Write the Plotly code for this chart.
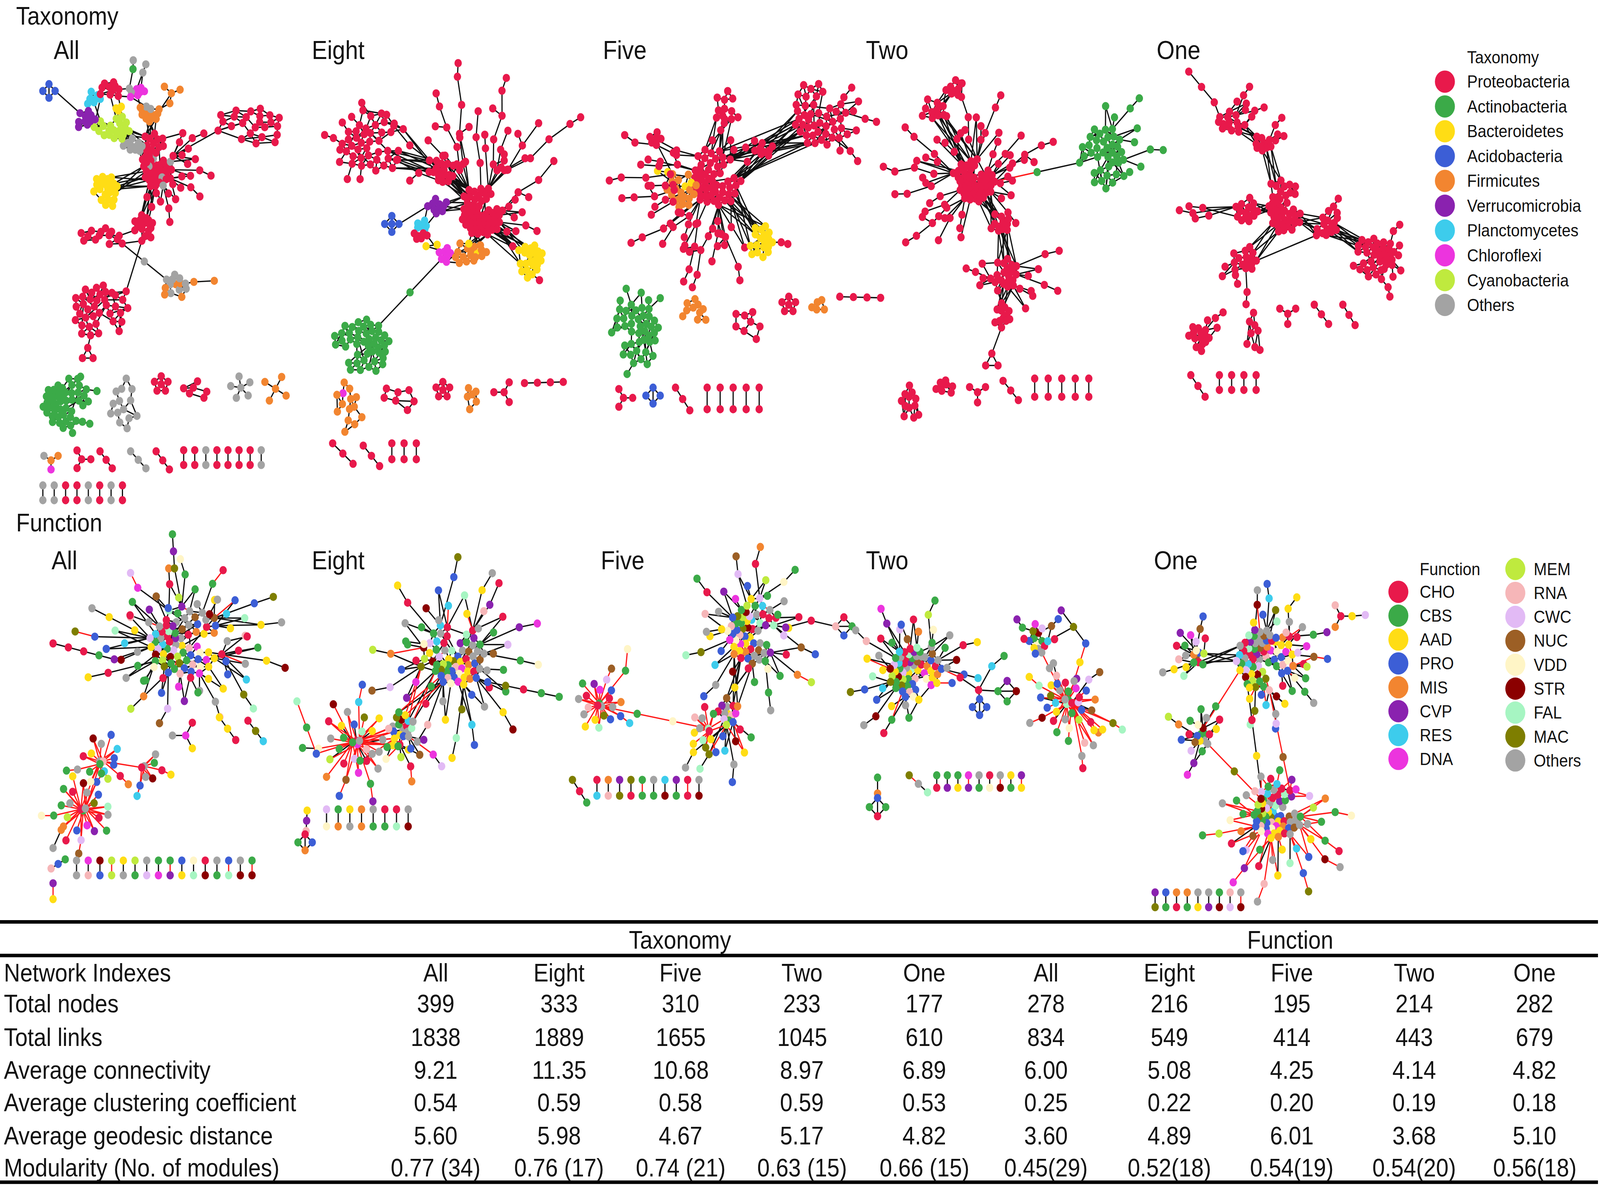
import numpy as np
import plotly.graph_objects as go

# ------------------------------------------------------------------ data
PANELS = ["All", "Eight", "Five", "Two", "One"]
TAX_CATS = ["Proteobacteria", "Actinobacteria", "Bacteroidetes", "Acidobacteria", "Firmicutes",
            "Verrucomicrobia", "Planctomycetes", "Chloroflexi", "Cyanobacteria", "Others"]
TAX_KEYS = ["P", "A", "B", "D", "F", "V", "L", "C", "Y", "O"]
TAX_COLORS = ["#E8194B", "#3BAA48", "#FFDD15", "#3C5ED6", "#F28530",
              "#8A22AF", "#3DCCEC", "#EC34DE", "#BFEA3E", "#A3A3A3"]
FUNC_CATS = ["CHO", "CBS", "AAD", "PRO", "MIS", "CVP", "RES", "DNA",
             "MEM", "RNA", "CWC", "NUC", "VDD", "STR", "FAL", "MAC", "Others"]
FUNC_COLORS = ["#E8194B", "#3BAA48", "#FFDD15", "#3C5ED6", "#F28530", "#8A22AF", "#3DCCEC", "#EC34DE",
               "#BFEA3E", "#F6B6B8", "#E2BAF5", "#9C5F25", "#FFF5C6", "#8B0000", "#A6F5C2", "#7E7E00", "#A3A3A3"]

ROW_LABELS = ["Total nodes", "Total links", "Average connectivity",
              "Average clustering coefficient", "Average geodesic distance",
              "Modularity (No. of modules)"]
TAX_NODES = [399, 333, 310, 233, 177]
FUNC_NODES = [278, 216, 195, 214, 282]
TAX_LINKS = [1838, 1889, 1655, 1045, 610]
FUNC_LINKS = [834, 549, 414, 443, 679]
TAX_AVGK = [9.21, 11.35, 10.68, 8.97, 6.89]
FUNC_AVGK = [6.00, 5.08, 4.25, 4.14, 4.82]
TAX_CC = [0.54, 0.59, 0.58, 0.59, 0.53]
FUNC_CC = [0.25, 0.22, 0.20, 0.19, 0.18]
TAX_GD = [5.60, 5.98, 4.67, 5.17, 4.82]
FUNC_GD = [3.60, 4.89, 6.01, 3.68, 5.10]
TAX_MOD = [0.77, 0.76, 0.74, 0.63, 0.66]
TAX_NMOD = [34, 17, 21, 15, 15]
FUNC_MOD = [0.45, 0.52, 0.54, 0.54, 0.56]
FUNC_NMOD = [29, 18, 19, 20, 18]

# ------------------------------------------------------------------ page frame
W, H = 4562, 3038
SC = W / 1568.0          # px per layout unit
HU = H / SC
FONT = "Arial, Liberation Sans, sans-serif"
NODE_PX = 21
EDGE_PX = 3.4

COLOR = {k: c for k, c in zip(TAX_KEYS, TAX_COLORS)}
COLOR.update({k: c for k, c in zip(FUNC_CATS, FUNC_COLORS)})
FMIX = ["CBS", "CHO", "Others", "PRO", "AAD", "CVP", "MIS", "CBS", "RES", "Others", "DNA", "MEM",
        "CHO", "PRO", "RNA", "CWC", "CBS", "AAD", "MAC", "Others", "NUC", "VDD", "STR", "FAL",
        "CHO", "PRO", "CBS", "Others", "AAD"]

# ------------------------------------------------------------------ layout helpers
NX, NY, NC = [], [], []
EK, ER = [], []
ESET = set()
SEED = [0]


def q(i, s=0):
    return ((i + 1) * 0.6180339887498949 + s * 0.7548776662466927) % 1.0


def nseed():
    SEED[0] += 1
    return SEED[0]


def add_nodes(xs, ys, cols):
    st = len(NX)
    NX.extend(float(v) for v in xs)
    NY.extend(float(v) for v in ys)
    NC.extend(cols)
    return list(range(st, st + len(cols)))


def edge(a, b, ecol="k"):
    if a == b:
        return
    key = (min(a, b), max(a, b))
    if key in ESET:
        return
    ESET.add(key)
    if isinstance(ecol, float):
        red = q(a * 3 + b * 7, 5) < ecol
    else:
        red = ecol == "r"
    (ER if red else EK).append(key)


def cols_of(spec, n, s=0):
    if spec == "mix":
        return [FMIX[(i * 5 + s * 3) % len(FMIX)] for i in range(n)]
    if isinstance(spec, str):
        return [spec] * n
    out = []
    tup = False
    for item in spec:
        if isinstance(item, tuple):
            out += [item[0]] * item[1]
            tup = True
        else:
            out.append(item)
    while len(out) < n:
        out.append(out[len(out) % max(1, len(spec))] if not tup else out[0])
    out = out[:n]
    if tup:
        order = sorted(range(n), key=lambda i: q(i, s + 11))
        out = [out[o] for o in order]
    return out


def blob(cx, cy, n, rx, ry, spec, k=3, chords=0.5, ecol="k"):
    s = nseed()
    i = np.arange(n)
    jit = np.array([q(t, s) for t in range(n)])
    r = np.sqrt((i + 0.5) / n) * (0.8 + 0.35 * jit)
    th = i * 2.399963 + s * 1.3 + 0.6 * np.array([q(t, s + 7) for t in range(n)])
    xs = cx + rx * r * np.cos(th)
    ys = cy + ry * r * np.sin(th)
    ids = add_nodes(xs, ys, cols_of(spec, n, s))
    if n > 1:
        px = (xs - cx) / max(rx, 1e-6)
        py = (ys - cy) / max(ry, 1e-6)
        D = np.hypot(px[:, None] - px[None, :], py[:, None] - py[None, :])
        for a in range(n):
            for b in np.argsort(D[a])[1:k + 1]:
                edge(ids[a], ids[int(b)], ecol)
        for t in range(int(chords * n)):
            a = t % n
            b = int(q(t, s + 3) * n)
            if a != b and D[a, b] < 0.9:
                edge(ids[a], ids[b], ecol)
    return ids


def spokes(core, cx, cy, n, r1, r2, spec, a0=0, a1=360, chain=0.3, ecol="k", ex=1.0, ey=1.0,
           multi=0.3, seg=None, side=0.35):
    s = nseed()
    cxs = np.array([NX[c] for c in core])
    cys = np.array([NY[c] for c in core])
    cols = cols_of(spec, 8 * n + 8, s)
    ci = [0]

    def col():
        ci[0] += 1
        return cols[(ci[0] - 1) % len(cols)]

    ids = []
    for j in range(n):
        a = np.radians(a0 + (a1 - a0) * (j + 0.3 + 0.4 * q(j, s + 1)) / n)
        rr = r1 + (r2 - r1) * q(j, s + 2)
        x = cx + rr * np.cos(a) * ex
        y = cy + rr * np.sin(a) * ey
        nid = add_nodes([x], [y], [col()])[0]
        ids.append(nid)
        order = np.argsort(np.hypot(cxs - x, cys - y))
        c0 = core[int(order[0])]
        L = np.hypot(x - NX[c0], y - NY[c0])
        if seg and L > 1.5 * seg:
            m = int(L // seg)
            dx, dy = (x - NX[c0]) / L, (y - NY[c0]) / L
            prev = c0
            for t in range(1, m + 1):
                f = t / (m + 1.0)
                off = (q(j * 5 + t, s + 8) - 0.5) * 8
                mx = NX[c0] + (x - NX[c0]) * f - dy * off
                my = NY[c0] + (y - NY[c0]) * f + dx * off
                mid = add_nodes([mx], [my], [col()])[0]
                ids.append(mid)
                edge(prev, mid, ecol)
                prev = mid
                if q(j * 3 + t, s + 9) < side:
                    sg = 1 if q(j + t, s + 10) < 0.5 else -1
                    lx = mx + 10 * (dx * 0.5 - dy * sg)
                    ly = my + 10 * (dy * 0.5 + dx * sg)
                    lf = add_nodes([lx], [ly], [col()])[0]
                    ids.append(lf)
                    edge(mid, lf, ecol)
            edge(prev, nid, ecol)
        else:
            edge(nid, c0, ecol)
            if q(j, s + 4) < multi and len(core) > 1:
                edge(nid, core[int(order[1])], ecol)
        if q(j, s + 5) < chain:
            step = 0.3 * (r2 - r1) + 6
            if seg:
                step = min(step, 12)
            b = a + 0.5 * (q(j, s + 6) - 0.5)
            nid2 = add_nodes([x + step * np.cos(b) * ex], [y + step * np.sin(b) * ey], [col()])[0]
            ids.append(nid2)
            edge(nid, nid2, ecol)
    return ids


def ring(cx, cy, n, r, spec, center=False, ecol="k", a0=-90, diag=True):
    s = nseed()
    cols = cols_of(spec, n + 1, s)
    th = np.radians(a0 + 360.0 * np.arange(n) / n)
    ids = add_nodes(cx + r * np.cos(th), cy + r * np.sin(th), cols[:n])
    for t in range(n):
        edge(ids[t], ids[(t + 1) % n], ecol)
    if diag and n >= 4:
        edge(ids[0], ids[n // 2], ecol)
    if center:
        c = add_nodes([cx], [cy], [cols[n]])[0]
        for t in ids:
            edge(c, t, ecol)
        ids = ids + [c]
    return ids


def star(cx, cy, n, r, spec, a0=-90, ecol="k"):
    s = nseed()
    cols = cols_of(spec, n + 1, s)
    c = add_nodes([cx], [cy], [cols[0]])[0]
    th = np.radians(a0 + 360.0 * np.arange(n) / n)
    ids = add_nodes(cx + r * np.cos(th), cy + r * np.sin(th), cols[1:n + 1])
    for t in ids:
        edge(c, t, ecol)
    return [c] + ids


def line(x0, y0, x1, y1, n, spec, ecol="k"):
    s = nseed()
    t = np.linspace(0, 1, n)
    ids = add_nodes(x0 + (x1 - x0) * t, y0 + (y1 - y0) * t, cols_of(spec, n, s))
    for j, (a, b) in enumerate(zip(ids[:-1], ids[1:])):
        edge(a, b, ecol[j % len(ecol)] if isinstance(ecol, list) else ecol)
    return ids


def pairs(x0, x1, y0, y1, tops, bots, ecols=None):
    m = len(tops)
    for j in range(m):
        x = x0 + (x1 - x0) * j / (m - 1) if m > 1 else x0
        e = ecols[j] if ecols else "k"
        line(x, y0, x, y1, 2, [tops[j], bots[j]], e)


def near(ids, x, y):
    d = [(NX[i] - x) ** 2 + (NY[i] - y) ** 2 for i in ids]
    return ids[int(np.argmin(d))]


def connect(A, B, cnt=1, ecol="k"):
    ax = np.array([NX[a] for a in A]); ay = np.array([NY[a] for a in A])
    bx = np.array([NX[b] for b in B]); by = np.array([NY[b] for b in B])
    D = np.hypot(ax[:, None] - bx[None, :], ay[:, None] - by[None, :])
    oa = np.argsort(D.min(1))[:cnt]
    ob = np.argsort(D.min(0))[:cnt]
    for t in range(len(oa)):
        edge(A[int(oa[t])], B[int(ob[t % len(ob)])], ecol)
        if cnt > 2:
            edge(A[int(oa[t])], B[int(ob[(t + 1) % len(ob)])], ecol)


def link(a, b, nmid=0, spec="O", ecol="k"):
    if nmid == 0:
        edge(a, b, ecol if not isinstance(ecol, list) else ecol[0])
        return []
    s = nseed()
    t = np.arange(1, nmid + 1) / (nmid + 1.0)
    ids = add_nodes(NX[a] + (NX[b] - NX[a]) * t, NY[a] + (NY[b] - NY[a]) * t, cols_of(spec, nmid, s))
    ch = [a] + ids + [b]
    for j, (u, v) in enumerate(zip(ch[:-1], ch[1:])):
        edge(u, v, ecol[j % len(ecol)] if isinstance(ecol, list) else ecol)
    return ids


def bridge(A, B, nmid=0, spec="O", ecol="k"):
    ax = np.array([NX[a] for a in A]); ay = np.array([NY[a] for a in A])
    bx = np.array([NX[b] for b in B]); by = np.array([NY[b] for b in B])
    D = np.hypot(ax[:, None] - bx[None, :], ay[:, None] - by[None, :])
    i, j = np.unravel_index(np.argmin(D), D.shape)
    return link(A[int(i)], B[int(j)], nmid, spec, ecol)


# ================================================================== TAXONOMY: All
core = blob(153, 143, 45, 17, 25, [("P", 40), ("O", 5)], chords=0.9)
spokes(core, 153, 143, 20, 24, 44, "P", -50, 110, chain=0.3)
orng = blob(147, 100, 14, 11, 8, [("F", 12), ("O", 2)], chords=0.8)
ost = star(168, 82, 3, 9, "F", a0=-140)
gry = blob(132, 128, 10, 10, 7, "O")
lime = blob(112, 113, 20, 18, 12, "Y", chords=0.8)
yb = blob(116, 95, 3, 5, 3, "B")
mag = blob(134, 80, 8, 9, 6, [("C", 6), ("O", 2)])
spokes(mag, 134, 80, 2, 14, 20, ["A", "O", "O", "O"], -110, -60, chain=0.9)
cyan = blob(92, 86, 7, 8, 7, "L")
purp = blob(84, 105, 10, 12, 8, "V")
blue = ring(48, 80, 4, 6, "D")
rtop = blob(107, 78, 10, 14, 7, "P")
yel = blob(104, 167, 22, 13, 15, "B", chords=0.9)
rbr = blob(246, 110, 24, 36, 18, "P", chords=0.3)
rdn = blob(141, 200, 15, 12, 12, "P")
rlf = blob(101, 208, 14, 24, 9, "P", k=2, chords=0.3)
gor = blob(172, 252, 14, 14, 12, [("O", 9), ("F", 5)])
och = line(190, 248, 210, 247, 2, "F")
rbig = blob(97, 272, 38, 28, 27, "P", chords=0.9)
rtri = ring(86, 312, 3, 6, "P")
connect(core, orng, 4); connect(core, gry, 4); connect(gry, lime, 3); connect(lime, purp, 3)
connect(lime, cyan, 2); connect(orng, mag, 2); connect(lime, rtop, 2); connect(rtop, cyan, 2)
connect(orng, ost, 2); connect(rtop, mag, 2); connect(lime, yb, 2); connect(core, lime, 3)
bridge(purp, blue); connect(core, yel, 5); bridge(core, rbr); connect(core, rdn, 3)
connect(rdn, rlf, 2); bridge(rdn, rbig); bridge(rlf, gor, 1, "O"); connect(rbig, rtri, 1)
connect(gor, och, 1)
grn = blob(64, 355, 45, 25, 22, "A", chords=0.9)
spokes(grn, 64, 355, 4, 26, 34, "A", -80, 100, chain=0.0)
blob(121, 356, 14, 17, 22, "O", k=2, chords=0.1)
ring(158, 338, 5, 7, "P", center=True)
blob(194, 343, 6, 18, 9, "P", k=2, chords=0.0)
star(236, 341, 5, 10, "O", a0=-100)
star(270, 342, 4, 12, "F", a0=-60)
star(50, 405, 3, 8, ["F", "O", "F", "C"], a0=-150)
star(80, 404, 3, 9, "P", a0=-120)
line(98, 397, 110, 412, 3, "P"); line(128, 397, 143, 412, 3, "O"); line(153, 397, 166, 413, 3, "P")
pairs(180, 256, 396, 409, ["P", "P", "O", "P", "P", "P", "P", "O"], ["P", "P", "O", "P", "P", "P", "P", "O"])
pairs(42, 120, 427, 440, ["O", "O", "P", "P", "O", "P", "O", "P"], ["O", "O", "P", "P", "O", "P", "O", "P"])

# ================================================================== TAXONOMY: Eight
rtl = blob(365, 126, 40, 34, 27, "P", chords=0.8)
spokes(rtl, 365, 126, 8, 30, 40, "P", 100, 260, chain=0.2)
rsm = blob(433, 149, 10, 10, 9, "P")
rcen = blob(471, 188, 55, 22, 22, "P", chords=0.9)
spokes(rcen, 471, 188, 17, 40, 125, "P", -155, -30, chain=0.5, seg=26)
spokes(rcen, 471, 188, 8, 28, 48, "P", -25, 45, chain=0.2)
pur = blob(429, 181, 10, 10, 8, "V")
blu = ring(384, 197, 4, 7, "D", center=True)
cya = blob(413, 198, 6, 8, 5, "L")
rs2 = blob(412, 207, 6, 8, 5, "P")
mg8 = blob(436, 224, 7, 6, 10, "C")
orn = blob(461, 222, 18, 18, 10, [("F", 16), ("B", 2)])
ys8 = blob(425, 214, 2, 9, 6, "B")
yel8 = blob(520, 228, 22, 14, 15, "B", chords=0.9)
spokes(yel8, 520, 228, 1, 20, 22, "P", 60, 70)
grn8 = blob(357, 303, 45, 30, 24, "A", chords=0.9)
connect(rtl, rsm, 6); connect(rsm, rcen, 6); connect(rcen, pur, 3); bridge(pur, blu)
connect(pur, cya, 2); connect(cya, rs2, 2); connect(rcen, orn, 4); connect(orn, mg8, 3)
connect(rcen, yel8, 6); connect(rs2, mg8, 1); connect(mg8, ys8, 2)
bridge(grn8, mg8, 1, "A")
blob(340, 357, 14, 14, 24, [("F", 13), ("C", 1)], k=2, chords=0.2)
blob(392, 350, 7, 22, 12, "P", k=2, chords=0.1)
ring(434, 343, 5, 7, "P", center=True)
blob(463, 350, 6, 8, 12, "F", k=2)
star(494, 345, 3, 10, "P", a0=-60)
line(514, 337, 552, 336, 4, "P")
line(326, 390, 346, 408, 3, "P"); line(356, 392, 372, 410, 3, "P")
pairs(384, 408, 390, 404, ["P"] * 3, ["P"] * 3)

# ================================================================== TAXONOMY: Five
rc5 = blob(700, 158, 50, 26, 25, "P", chords=0.9)
rtp5 = blob(712, 97, 12, 14, 16, "P", k=2, chords=0.3)
rtr5 = blob(802, 103, 42, 28, 30, "P", chords=0.9)
spokes(rtr5, 802, 103, 8, 30, 48, "P", -40, 60, chain=0.3)
rmd5 = blob(749, 132, 8, 9, 8, "P")
orn5 = blob(669, 168, 20, 15, 18, [("F", 18), ("B", 2)])
ys5 = blob(648, 151, 2, 8, 2, "B")
rl5 = blob(642, 122, 6, 8, 6, "P")
spokes(rc5, 700, 158, 15, 45, 92, "P", 105, 215, chain=0.5, seg=26)
spokes(rc5, 700, 158, 8, 35, 92, "P", 60, 105, chain=0.3, seg=30, side=0.2)
spokes(rc5, 700, 158, 6, 30, 45, "P", -100, -20, chain=0.2)
yel5 = blob(746, 212, 18, 14, 15, "B", chords=0.9)
spokes(yel5, 746, 212, 1, 18, 20, "P", 0, 10)
connect(rtr5, rc5, 8); connect(rmd5, rc5, 3); connect(rmd5, rtr5, 3); connect(rtp5, rc5, 4)
connect(orn5, rc5, 6); connect(rl5, orn5, 1); connect(yel5, rc5, 6); connect(ys5, orn5, 2)
grn5 = blob(624, 292, 40, 25, 28, "A", chords=0.9)
spokes(grn5, 624, 292, 5, 28, 40, "A", -130, -40, chain=0.0)
spokes(grn5, 624, 292, 1, 38, 40, "A", 100, 110, chain=0.0)
blob(680, 273, 10, 14, 12, "F", k=2, chords=0.2)
blob(733, 285, 8, 16, 16, "P", k=2, chords=0.2)
ring(773, 268, 5, 7, "P", center=True)
blob(802, 270, 5, 8, 9, "F", k=2)
line(823, 261, 863, 262, 4, "P")
star(611, 350, 3, 9, "P", a0=-120)
ring(640, 348, 4, 7, "D")
line(662, 341, 676, 361, 3, "P")
pairs(693, 744, 341, 360, ["P"] * 5, ["P"] * 5)

# ================================================================== TAXONOMY: Two
rh2 = blob(955, 160, 48, 20, 20, "P", chords=1.0)
spokes(rh2, 955, 160, 26, 30, 80, "P", 100, 340, chain=0.5, seg=26)
spokes(rh2, 955, 160, 8, 25, 45, "P", -40, 60, chain=0.3)
rul = blob(916, 96, 10, 12, 12, "P")
rul2 = blob(935, 78, 8, 8, 10, "P")
rs1 = blob(981, 198, 10, 10, 9, "P")
rsb = blob(985, 242, 20, 14, 16, "P", chords=0.8)
spokes(rsb, 985, 242, 7, 18, 45, "P", -30, 60, chain=0.3)
spokes(rsb, 985, 242, 4, 18, 30, "P", 150, 210)
rs3 = blob(983, 277, 12, 9, 12, "P")
rt2 = ring(972, 318, 3, 7, "P")
grn2 = blob(1082, 137, 38, 24, 28, "A", chords=0.9)
spokes(grn2, 1082, 137, 8, 28, 50, "A", -100, 40, chain=0.3)
link(near(rh2, 990, 150), near(grn2, 1050, 142), 1, "A", ["r", "k"])
connect(rh2, rul, 4); connect(rul, rul2, 3); connect(rh2, rs1, 5); connect(rs1, rsb, 5)
connect(rsb, rs3, 4); connect(rs3, rt2, 1)
blob(892, 355, 12, 9, 20, "P", k=3, chords=0.5)
blob(925, 340, 8, 10, 7, "P")
star(958, 345, 3, 9, "P", a0=-150)
line(983, 335, 998, 352, 3, "P")
pairs(1014, 1067, 333, 349, ["P"] * 5, ["P"] * 5)

# ================================================================== TAXONOMY: One
rc1 = blob(1258, 183, 40, 18, 24, "P", chords=1.0)
ch1 = line(1165, 63, 1190, 90, 3, "P")
rt1 = blob(1207, 108, 14, 16, 10, "P", chords=0.6)
spokes(rt1, 1207, 108, 6, 16, 28, "P", -80, -10)
rm1 = blob(1238, 126, 10, 9, 9, "P")
spokes(rm1, 1238, 126, 3, 12, 22, "P", -60, 0)
rlf1 = blob(1222, 186, 15, 12, 12, "P")
spokes(rlf1, 1222, 186, 3, 30, 55, "P", 172, 186, chain=0.9)
rll1 = blob(1220, 228, 15, 14, 12, "P")
spokes(rll1, 1220, 228, 5, 16, 32, "P", 80, 170)
rr1 = blob(1300, 200, 12, 12, 10, "P")
spokes(rr1, 1300, 200, 4, 12, 20, "P", -90, -30)
rfr1 = blob(1348, 226, 35, 24, 18, "P", chords=0.9)
spokes(rfr1, 1348, 226, 6, 22, 30, "P", -60, 80)
connect(ch1, rt1, 1); connect(rt1, rm1, 3); connect(rm1, rc1, 3); connect(rc1, rlf1, 4)
connect(rc1, rll1, 3); connect(rc1, rr1, 4); connect(rr1, rfr1, 5); connect(rll1, rr1, 1)
b1 = blob(1175, 297, 14, 12, 12, "P", chords=0.8)
spokes(b1, 1175, 297, 3, 14, 24, "P", -70, -20)
blob(1228, 293, 8, 8, 22, "P", k=2, chords=0.1)
star(1262, 276, 3, 9, "P", a0=-150)
line(1288, 268, 1302, 285, 3, "P"); line(1316, 268, 1328, 286, 3, "P")
line(1167, 330, 1181, 349, 3, "P")
pairs(1195, 1231, 330, 343, ["P"] * 4, ["P"] * 4)

# ================================================================== FUNCTION: All
fa = blob(180, 566, 70, 40, 30, "mix", chords=0.9, ecol=0.05)
spokes(fa, 180, 566, 55, 42, 90, "mix", 0, 360, chain=0.35, ecol=0.05, ey=0.68)
tsp = line(169, 470, 171, 500, 3, ["CBS", "CVP", "MAC"])
connect(tsp, fa, 1)
lc = line(52, 566, 112, 580, 5, ["CHO", "CHO", "CHO", "CBS", "CVP"])
connect(lc, fa, 1)
hA = blob(81, 712, 3, 3, 3, ["CBS", "CHO", "Others"], ecol="r")
spokes(hA, 81, 712, 22, 12, 32, "mix", 0, 360, chain=0.15, ecol="r")
hB = blob(99, 670, 3, 3, 3, ["Others", "RNA", "CBS"], ecol="r")
spokes(hB, 99, 670, 14, 10, 26, "mix", 0, 360, chain=0.15, ecol="r")
connect(hA, hB, 2, "r")
hC = blob(140, 674, 2, 3, 2, ["Others", "CHO"], ecol="r")
spokes(hC, 140, 674, 6, 8, 20, "mix", -60, 120, chain=0.3, ecol="r")
connect(hB, hC, 1, "r")
tl = line(52, 746, 60, 730, 2, ["Others", "MIS"])
connect(tl, hA, 1, "r")
star(182, 647, 3, 13, ["DNA", "Others", "CHO", "AAD"], a0=180)
line(215, 631, 231, 651, 3, ["AAD", "AAD", "CHO"])
line(243, 634, 258, 652, 3, ["CHO", "MAC", "RES"])
star(57, 760, 2, 8, ["PRO", "CBS", "RNA"], a0=-30)
pairs(75, 247, 757, 770,
      ["Others", "DNA", "STR", "MEM", "AAD", "MEM", "Others", "CBS", "CBS", "PRO", "VDD", "CHO", "Others", "PRO", "Others", "CBS"],
      ["Others", "RNA", "PRO", "MEM", "Others", "CBS", "CWC", "DNA", "CVP", "AAD", "FAL", "STR", "CBS", "FAL", "STR", "STR"],
      ["k", "k", "k", "r", "k", "k", "k", "k", "r", "k", "k", "k", "k", "r", "k", "r"])
line(52, 777, 52, 791, 2, ["CVP", "AAD"], "r")

# ================================================================== FUNCTION: Eight
fe = blob(446, 578, 60, 30, 30, "mix", chords=0.9, ecol=0.06)
spokes(fe, 446, 578, 42, 32, 72, "mix", 0, 360, chain=0.3, ecol=0.06)
sp8 = line(489, 513, 480, 532, 2, ["CHO", "CVP"])
connect(sp8, fe, 1)
rc8 = line(478, 600, 548, 613, 5, ["PRO", "MAC", "CHO", "CBS", "CBS"])
connect(rc8, fe, 1)
lo8 = blob(349, 653, 4, 4, 4, ["CHO", "DNA", "CBS", "Others"], ecol="r")
spokes(lo8, 349, 653, 28, 10, 42, "mix", 0, 360, chain=0.2, ecol=0.85)
md8 = blob(394, 640, 18, 14, 14, "mix", ecol=0.1)
spokes(md8, 394, 640, 10, 16, 40, "mix", 20, 150, chain=0.3, ecol=0.3)
connect(lo8, md8, 4, "r"); connect(md8, fe, 4, 0.5)
arm8 = line(291, 617, 310, 663, 3, ["FAL", "CBS", "PRO"], "r")
connect(arm8, lo8, 1, "r")
pairs(320, 400, 712, 727, ["CWC", "CBS", "AAD", "MIS", "Others", "CHO", "CHO", "Others"],
      ["VDD", "MIS", "Others", "MIS", "CBS", "CBS", "FAL", "STR"])
t8 = line(301, 713, 300, 731, 3, ["AAD", "CVP", "RNA"])
r8 = ring(299, 741, 4, 7, ["CHO", "PRO", "MIS", "CBS"], a0=-90)
connect(t8, r8, 1)

# ================================================================== FUNCTION: Five
fv = blob(736, 556, 55, 26, 30, "mix", chords=0.9, ecol=0.05)
spokes(fv, 736, 556, 32, 28, 58, "mix", 0, 360, chain=0.3, ecol=0.05, ey=1.05)
rch5 = line(770, 552, 795, 546, 2, ["CVP", "CHO"])
connect(rch5, fv, 1)
sm5 = ring(827, 551, 4, 8, ["RNA", "CHO", "CBS", "PRO"], a0=180)
connect(rch5, sm5, 1)
ls5 = blob(588, 620, 3, 3, 3, ["CBS", "Others", "CHO"], ecol="r")
spokes(ls5, 588, 620, 18, 10, 26, "mix", 0, 360, chain=0.1, ecol="r")
tp5 = line(615, 571, 613, 590, 2, ["VDD", "CBS"], "r")
connect(tp5, ls5, 1, "r")
mb5 = blob(714, 626, 14, 10, 14, "mix", ecol=0.1)
spokes(mb5, 714, 626, 10, 18, 50, "mix", 40, 140, chain=0.3, ecol=0.3)
mr5 = blob(694, 642, 2, 2, 2, ["FAL", "CHO"], ecol="r")
spokes(mr5, 694, 642, 10, 8, 22, "mix", 60, 300, chain=0.0, ecol="r")
connect(mr5, mb5, 2, "r")
bridge(ls5, mr5, 2, "mix", "r")
connect(mb5, fv, 3, "k")
line(561, 686, 575, 706, 3, ["MAC", "CHO", "CBS"])
pairs(585, 685, 686, 700, ["CHO", "MIS", "CVP", "MAC", "CBS", "Others", "RES", "CVP", "CHO", "Others"],
      ["RES", "RNA", "MAC", "CHO", "CBS", "CBS", "STR", "CBS", "CHO", "STR"],
      ["k", "k", "k", "k", "r", "k", "k", "k", "r", "k"])

# ================================================================== FUNCTION: Two
ft = blob(895, 590, 60, 26, 25, "mix", chords=0.9, ecol=0.05)
spokes(ft, 895, 590, 30, 28, 55, "mix", 90, 380, chain=0.3, ecol=0.05)
c2 = line(941, 596, 959, 607, 2, ["CHO", "CHO"], "k")
connect(c2, ft, 1, "r")
u2 = line(972, 586, 984, 577, 2, ["RES", "CBS"])
connect(c2, u2, 1)
bl2 = ring(960, 622, 4, 7, "PRO")
connect(c2, bl2, 1)
m2 = ring(987, 608, 4, 9, ["CBS", "CVP", "STR", "CBS"], a0=180)
connect(c2, m2, 1)
hb2 = blob(1046, 617, 4, 5, 4, ["CBS", "FAL", "Others", "CHO"], ecol="r")
spokes(hb2, 1046, 617, 28, 10, 34, "mix", 0, 360, chain=0.2, ecol=0.85, ey=0.85)
spokes(hb2, 1046, 617, 6, 36, 52, "mix", 20, 80, chain=0.2, ecol="r")
bk2 = blob(1018, 566, 12, 10, 12, "mix")
spokes(bk2, 1018, 566, 6, 12, 22, "mix", 180, 360)
bridge(bk2, hb2, 2, "mix", "r")
lp2 = line(1040, 537, 1064, 566, 3, ["CVP", "MAC", "PRO"])
connect(lp2, bk2, 1)
bridge(lp2, hb2, 2, "mix", "r")
t2 = line(860, 684, 860, 698, 2, ["CBS", "MIS"])
r2 = ring(860, 710, 4, 8, ["PRO", "CBS", "CHO", "CBS"], a0=-90)
connect(t2, r2, 1)
line(891, 682, 909, 697, 3, ["MAC", "Others", "FAL"], ["r", "k"])
pairs(918, 1001, 682, 693, ["CBS", "CBS", "CBS", "DNA", "Others", "CHO", "Others", "AAD", "CVP"],
      ["CHO", "CVP", "AAD", "CVP", "CBS", "VDD", "STR", "CBS", "AAD"],
      ["k", "k", "k", "r", "k", "k", "r", "k", "r"])

# ================================================================== FUNCTION: One
f1 = blob(1238, 578, 65, 28, 30, "mix", chords=0.9, ecol=0.15)
spokes(f1, 1238, 578, 30, 30, 55, "mix", -110, 120, chain=0.3, ecol=0.2, ey=0.95)
lf1 = blob(1174, 578, 8, 8, 8, "mix")
spokes(lf1, 1174, 578, 12, 10, 28, "mix", 120, 300, chain=0.2)
connect(lf1, f1, 3)
ml1 = blob(1180, 648, 8, 8, 8, "mix")
spokes(ml1, 1180, 648, 14, 10, 30, "mix", 90, 340, chain=0.2)
f2 = blob(1250, 716, 60, 26, 24, "mix", chords=0.9, ecol=0.85)
spokes(f2, 1250, 716, 28, 28, 62, "mix", -20, 200, chain=0.3, ecol=0.8, ey=1.05)
spokes(f2, 1250, 716, 8, 28, 40, "mix", 200, 340, chain=0.0, ecol=0.8)
link(near(f1, 1222, 615), near(f2, 1234, 692), 2, "mix", "k")
link(near(f1, 1252, 615), near(f2, 1264, 692), 2, "mix", "r")
link(near(f1, 1200, 606), near(ml1, 1182, 636), 0, "mix", "r")
link(near(ml1, 1197, 658), near(f2, 1228, 700), 1, "mix", "r")
star(1314, 542, 3, 11, ["CHO", "RNA", "AAD", "MIS"], a0=-120)
line(1325, 542, 1338, 541, 2, ["AAD", "CWC"])
pairs(1132, 1216, 785, 798, ["CVP", "PRO", "MIS", "MIS", "Others", "Others", "CBS", "RNA", "Others"],
      ["MAC", "CBS", "CHO", "CBS", "AAD", "CVP", "STR", "CWC", "STR"],
      ["k", "k", "k", "k", "k", "k", "k", "k", "r"])

# ------------------------------------------------------------------ traces
def seg_xy(E):
    xs, ys = [], []
    for a, b in E:
        xs += [NX[a], NX[b], None]
        ys += [NY[a], NY[b], None]
    return xs, ys


fig = go.Figure()
kx, ky = seg_xy(EK)
fig.add_trace(go.Scatter(x=kx, y=ky, mode="lines", line=dict(color="#111111", width=EDGE_PX),
                         hoverinfo="skip", showlegend=False))
rx_, ry_ = seg_xy(ER)
fig.add_trace(go.Scatter(x=rx_, y=ry_, mode="lines", line=dict(color="#FF1A1A", width=EDGE_PX),
                         hoverinfo="skip", showlegend=False))
fig.add_trace(go.Scatter(x=NX, y=NY, mode="markers",
                         marker=dict(size=NODE_PX, color=[COLOR[c] for c in NC], line=dict(width=0)),
                         hoverinfo="skip", showlegend=False))

ann = []


def text(x, y, s, size, anchor="left", color="#111111"):
    ann.append(dict(x=x, y=y, xref="x", yref="y", text=s, showarrow=False, xanchor=anchor,
                    yanchor="middle", font=dict(family=FONT, size=size, color=color)))


# section headings and panel names
text(15, 14, "Taxonomy", 64)
text(15, 460, "Function", 64)
for name, xt in zip(PANELS, [52, 305, 590, 848, 1133]):
    text(xt, 44, name, 66)
for name, xf in zip(PANELS, [50, 305, 588, 848, 1130]):
    text(xf, 493, name, 66)

# legends
tax_y = [71.8 + 21.83 * i for i in range(len(TAX_CATS))]
fig.add_trace(go.Scatter(x=[1416] * len(TAX_CATS), y=tax_y, mode="markers",
                         marker=dict(size=57, color=TAX_COLORS, line=dict(width=0)),
                         hoverinfo="skip", showlegend=False))
text(1437, 50.5, "Taxonomy", 45)
for nm, yy in zip(TAX_CATS, tax_y):
    text(1437, yy, nm, 45)

n1 = 8
f_y1 = [520.6 + 21.0 * i for i in range(n1)]
f_y2 = [500.5 + 21.06 * i for i in range(len(FUNC_CATS) - n1)]
fig.add_trace(go.Scatter(x=[1370.4] * n1 + [1485] * (len(FUNC_CATS) - n1), y=f_y1 + f_y2, mode="markers",
                         marker=dict(size=57, color=FUNC_COLORS, line=dict(width=0)),
                         hoverinfo="skip", showlegend=False))
text(1390.7, 500.5, "Function", 45)
for nm, yy in zip(FUNC_CATS[:n1], f_y1):
    text(1390.7, yy, nm, 45)
for nm, yy in zip(FUNC_CATS[n1:], f_y2):
    text(1502.4, yy, nm, 45)

# table
col_x = [427, 548, 667, 786, 906, 1025, 1146, 1266, 1386, 1504]
row_y = [883, 912.5, 941.5, 970, 999, 1027.5]
text(666.5, 827, "Taxonomy", 64, "center")
text(1264.5, 827, "Function", 64, "center")
text(3, 856, "Network Indexes", 64)
for nm, xc in zip(PANELS + PANELS, col_x):
    text(xc, 856, nm, 64, "center")
rows = [
    [str(v) for v in TAX_NODES + FUNC_NODES],
    [str(v) for v in TAX_LINKS + FUNC_LINKS],
    ["%.2f" % v for v in TAX_AVGK + FUNC_AVGK],
    ["%.2f" % v for v in TAX_CC + FUNC_CC],
    ["%.2f" % v for v in TAX_GD + FUNC_GD],
    ["%.2f (%d)" % (m, k) for m, k in zip(TAX_MOD, TAX_NMOD)] +
    ["%.2f(%d)" % (m, k) for m, k in zip(FUNC_MOD, FUNC_NMOD)],
]
for lab, yy, vals in zip(ROW_LABELS, row_y, rows):
    text(3, yy, lab, 64)
    for v, xc in zip(vals, col_x):
        text(xc, yy, v, 64, "center")

shapes = []
for yy in [811, 840.5, 1040]:
    shapes.append(dict(type="line", xref="x", yref="y", x0=0, x1=1566, y0=yy, y1=yy,
                       line=dict(color="#000000", width=9)))

fig.update_layout(
    width=W, height=H, margin=dict(l=0, r=0, t=0, b=0),
    paper_bgcolor="white", plot_bgcolor="white",
    xaxis=dict(range=[0, 1568], visible=False, fixedrange=True),
    yaxis=dict(range=[HU, 0], visible=False, fixedrange=True),
    annotations=ann, shapes=shapes, showlegend=False,
)

# scale the drawn page so that it exactly covers the browser viewport
FIT_JS = """
var gd = document.getElementById('{plot_id}');
function fitPage() {
  var vw = document.documentElement.clientWidth || window.innerWidth;
  var vh = window.innerHeight;
  var sx = vw / %d;
  var sy = Math.max(vh / %d, sx);
  var box = gd.parentElement;
  document.documentElement.style.overflow = 'hidden';
  document.body.style.margin = '0';
  document.body.style.padding = '0';
  document.body.style.overflow = 'hidden';
  box.style.width = (%d * sx) + 'px';
  box.style.height = (%d * sy) + 'px';
  box.style.overflow = 'hidden';
  gd.style.transformOrigin = '0 0';
  gd.style.transform = 'scale(' + sx + ',' + sy + ')';
}
fitPage();
window.addEventListener('resize', fitPage);
""" % (W, H, W, H)
fig.write_html("out.html", post_script=FIT_JS, config={"displayModeBar": False})
